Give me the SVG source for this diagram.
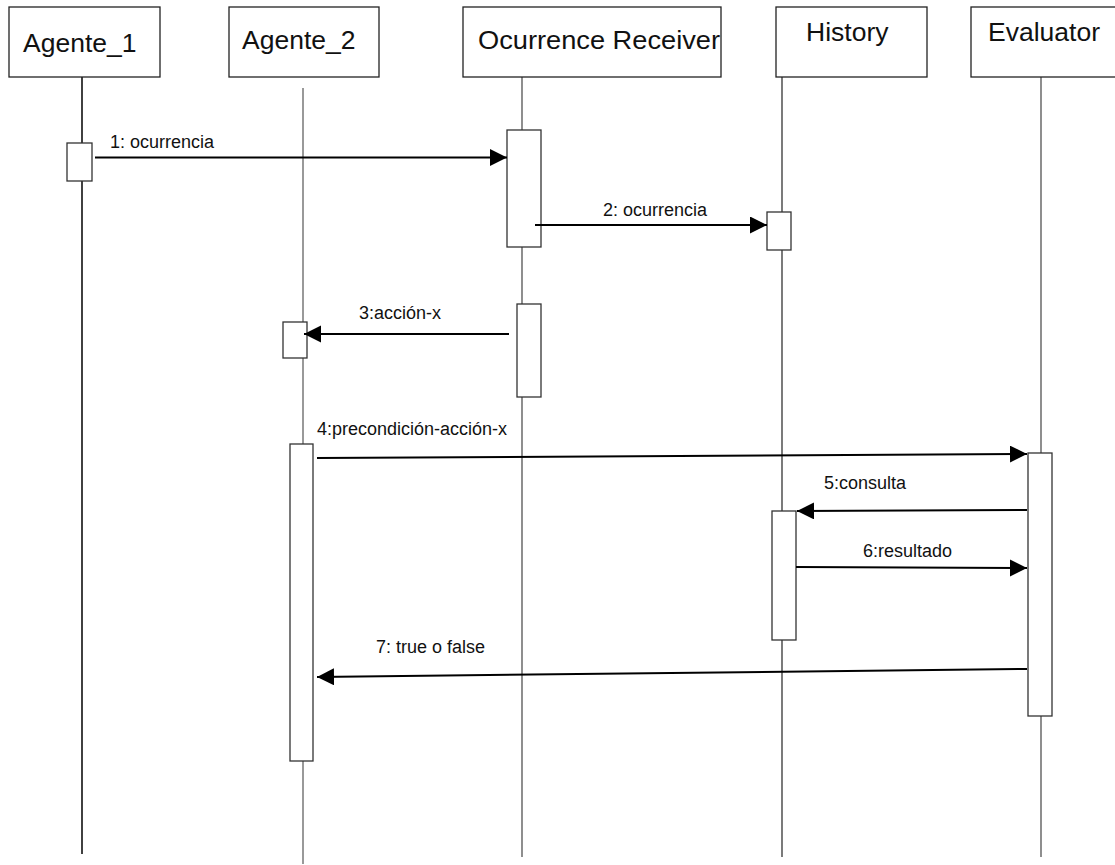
<svg xmlns="http://www.w3.org/2000/svg" width="1115" height="865" viewBox="0 0 1115 865">
  <style>
    .head { fill: #fff; stroke: #222; stroke-width: 1.3; }
    .act { fill: #fff; stroke: #333; stroke-width: 1.3; }
    .life { stroke: #333; stroke-width: 1.2; fill: none; }
    .title { font-family: "Liberation Sans", Arial, sans-serif; font-size: 26.5px; fill: #111; }
    .msg { stroke: #000; stroke-width: 2; fill: none; marker-end: url(#head); }
    .lbl { font-family: "Liberation Sans", Arial, sans-serif; font-size: 18px; fill: #111; }
  </style>
  <defs>
    <marker id="head" markerUnits="userSpaceOnUse" markerWidth="18" markerHeight="18" refX="17" refY="8.5" orient="auto">
      <path d="M0,0 L17,8.5 L0,17 z" fill="#000"/>
    </marker>
  </defs>
  <rect width="1115" height="865" fill="#fff"/>

  <!-- lifeline: Agente_1 -->
  <g id="agente1">
    <line class="life" x1="82" y1="77" x2="82" y2="854" style="stroke:#111;stroke-width:1.6"/>
    <rect class="head" x="9" y="7" width="151" height="70"/>
    <text class="title" x="23" y="52">Agente_1</text>
    <rect class="act" x="67" y="143" width="25" height="38"/>
  </g>

  <!-- lifeline: Agente_2 -->
  <g id="agente2">
    <line class="life" x1="303" y1="88" x2="303" y2="864" style="stroke:#555"/>
    <rect class="head" x="229" y="7" width="150" height="70"/>
    <text class="title" x="242" y="49">Agente_2</text>
    <rect class="act" x="283" y="322" width="24" height="36"/>
    <rect class="act" x="290" y="444" width="23" height="317"/>
  </g>

  <!-- lifeline: Ocurrence Receiver -->
  <g id="receiver">
    <line class="life" x1="522" y1="77" x2="522" y2="857" style="stroke:#444"/>
    <rect class="head" x="463" y="7" width="258" height="70"/>
    <text class="title" x="478" y="49" textLength="242" lengthAdjust="spacingAndGlyphs">Ocurrence Receiver</text>
    <rect class="act" x="507" y="130" width="34" height="117"/>
    <rect class="act" x="517" y="304" width="24" height="93"/>
  </g>

  <!-- lifeline: History -->
  <g id="history">
    <line class="life" x1="782" y1="77" x2="782" y2="857" style="stroke:#222"/>
    <rect class="head" x="776" y="7" width="151" height="70"/>
    <text class="title" x="806" y="41">History</text>
    <rect class="act" x="767" y="212" width="24" height="38"/>
    <rect class="act" x="772" y="511" width="24" height="129"/>
  </g>

  <!-- lifeline: Evaluator -->
  <g id="evaluator">
    <line class="life" x1="1041" y1="77" x2="1041" y2="857" style="stroke:#444"/>
    <rect class="head" x="971" y="7" width="146" height="70"/>
    <text class="title" x="988" y="41">Evaluator</text>
    <rect class="act" x="1028" y="453" width="24" height="263"/>
  </g>

  <!-- messages -->
  <g id="messages">
    <line class="msg" x1="95" y1="157.5" x2="507" y2="157.5"/>
    <line class="msg" x1="535" y1="225" x2="767" y2="225"/>
    <line class="msg" x1="509" y1="334" x2="304" y2="334"/>
    <line class="msg" x1="317" y1="458" x2="1027" y2="454"/>
    <line class="msg" x1="1027" y1="510" x2="797" y2="511"/>
    <line class="msg" x1="796" y1="567" x2="1027" y2="568"/>
    <line class="msg" x1="1027" y1="669" x2="317" y2="677"/>

    <text class="lbl" x="110" y="148">1: ocurrencia</text>
    <text class="lbl" x="603" y="216">2: ocurrencia</text>
    <text class="lbl" x="359" y="319">3:acción-x</text>
    <text class="lbl" x="317" y="435">4:precondición-acción-x</text>
    <text class="lbl" x="824" y="489">5:consulta</text>
    <text class="lbl" x="863" y="557">6:resultado</text>
    <text class="lbl" x="376" y="653">7: true o false</text>
  </g>
</svg>
